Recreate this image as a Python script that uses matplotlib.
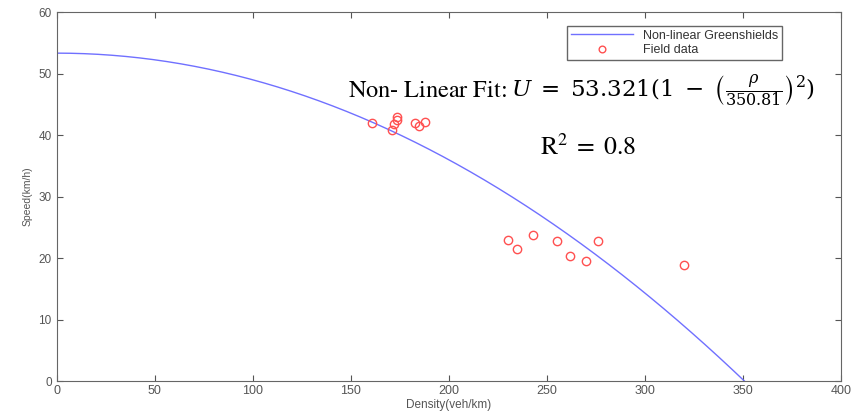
import numpy as np
import matplotlib.pyplot as plt

# field data (density veh/km, speed km/h)
density = [160.7, 171, 172, 173.5, 173.5, 183, 185, 188,
           230, 235, 243, 255, 262, 270, 276, 320]
speed = [41.9, 40.8, 41.8, 42.9, 42.5, 42.0, 41.5, 42.2,
         23.0, 21.4, 23.7, 22.7, 20.3, 19.6, 22.7, 18.8]

# fitted Greenshields parameters
u_free = 53.321
k_jam = 350.81

x_ticks = [0, 50, 100, 150, 200, 250, 300, 350, 400]
y_ticks = [0, 10, 20, 30, 40, 50, 60]

plt.rcParams['font.family'] = ['Liberation Sans', 'DejaVu Sans']
plt.rcParams['mathtext.fontset'] = 'stix'

fig = plt.figure(figsize=(8.58, 4.16), dpi=100)
ax = fig.add_axes([0.066, 0.084, 0.914, 0.887])

k = np.linspace(0, k_jam, 300)
ax.plot(k, u_free * (1 - (k / k_jam) ** 2), color='#7070ff', lw=1.0,
        label='Non-linear Greenshields')
ax.plot(density, speed, 'o', mfc='none', mec='#ff5050', ms=6, mew=1.0,
        label='Field data')

ax.set_xlim(0, 400)
ax.set_ylim(0, 60)
ax.set_xticks(x_ticks)
ax.set_yticks(y_ticks)
ax.tick_params(direction='in', top=True, right=True,
               labelcolor='#555555', color='#555555', length=4)
ax.tick_params(axis='x', labelsize=9, pad=3)
ax.tick_params(axis='y', labelsize=8.5)
for s in ax.spines.values():
    s.set_color('#666666')
ax.set_xlabel('Density(veh/km)', fontsize=8.5, color='#555555', labelpad=1)
ax.set_ylabel('Speed(km/h)', fontsize=7.5, color='#555555', labelpad=4)

leg = ax.legend(loc='upper right', bbox_to_anchor=(0.925, 0.962), fontsize=9,
                fancybox=False, framealpha=1, edgecolor='#666666',
                borderpad=0.3, labelspacing=0.2, handlelength=5.0,
                markerscale=0.8, borderaxespad=0)
for t in leg.get_texts():
    t.set_color('#333333')

# fit equation and R^2
ax.text(0.371, 0.769, r'$\mathrm{Non}\text{-}\ \mathrm{Linear\ Fit}\!:\!$',
        transform=ax.transAxes, fontsize=17.5, color='black')
ax.text(0.967, 0.769,
        r'$U\;=\;53.321(1\;-\;\left(\frac{\rho}{350.81}\right)^{2})$',
        transform=ax.transAxes, fontsize=16.5, color='black', ha='right',
        math_fontfamily='dejavuserif')
ax.text(0.616, 0.612, r'$\mathrm{R^{2}}\;=\;\mathrm{0.8}$', transform=ax.transAxes,
        fontsize=18.5, color='black')

fig.savefig('out.png')
